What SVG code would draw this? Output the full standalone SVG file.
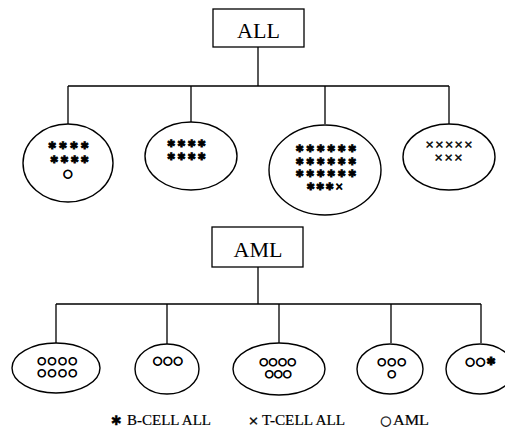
<svg xmlns="http://www.w3.org/2000/svg" width="505" height="429" viewBox="0 0 505 429">
<style>
.box{fill:#fff;stroke:#000;stroke-width:1.3}
.ell{fill:#fff;stroke:#000;stroke-width:1.4}
.ln{fill:none;stroke:#000;stroke-width:1.3}
.title{font-family:"Liberation Serif",serif;font-size:22px;text-anchor:middle;fill:#000}
.sym{font-family:"DejaVu Sans",sans-serif;font-size:10px;text-anchor:middle;dominant-baseline:central;fill:#000;stroke:#000;stroke-width:0.4}
.ast{stroke-width:0.8}
.cir{font-size:10.3px;stroke-width:0.9}
.leg{font-family:"Liberation Serif",serif;font-size:15px;fill:#000;stroke:#000;stroke-width:0.2}
.legs{font-family:"DejaVu Sans",sans-serif;font-size:13px;fill:#000;stroke:#000;stroke-width:0.3}
</style>
<rect width="505" height="429" fill="#fff"/>
<g id="connectors">
<path class="ln" d="M258 47V86M68 86H449M68 86V124M191 86V123M325 86V124M449 86V125"/>
<path class="ln" d="M258 267V304M56 304H481M56 304V343M167 304V344M279 304V343M391 304V343M481 304V343"/>
</g>
<g id="ALL"><rect class="box" x="213" y="9" width="91" height="38"/><text class="title" x="258.5" y="38">ALL</text></g>
<g id="AML"><rect class="box" x="212" y="227" width="91" height="40"/><text class="title" x="258" y="257">AML</text></g>
<g id="all1"><ellipse class="ell" cx="68" cy="163" rx="45" ry="39"/>
<text class="sym ast"><tspan x="68.5" y="145" textLength="41" lengthAdjust="spacing">✱✱✱✱</tspan><tspan x="69.5" y="159" textLength="39" lengthAdjust="spacing">✱✱✱✱</tspan></text>
<text class="sym cir" x="68" y="173" style="font-size:11px">○</text></g>
<g id="all2"><ellipse class="ell" cx="191" cy="156" rx="46" ry="34"/>
<text class="sym ast"><tspan x="186.5" y="143" textLength="39" lengthAdjust="spacing">✱✱✱✱</tspan><tspan x="186.5" y="156" textLength="39" lengthAdjust="spacing">✱✱✱✱</tspan></text></g>
<g id="all3"><ellipse class="ell" cx="325" cy="170" rx="56" ry="45"/>
<text class="sym ast"><tspan x="326" y="148" textLength="61" lengthAdjust="spacing">✱✱✱✱✱✱</tspan><tspan x="326" y="161" textLength="61" lengthAdjust="spacing">✱✱✱✱✱✱</tspan><tspan x="326" y="173" textLength="61" lengthAdjust="spacing">✱✱✱✱✱✱</tspan><tspan x="325" y="186" textLength="37" lengthAdjust="spacing">✱✱✱×</tspan></text></g>
<g id="all4"><ellipse class="ell" cx="449" cy="157" rx="46" ry="33"/>
<text class="sym" style="font-size:11px"><tspan x="449" y="144" textLength="48" lengthAdjust="spacing">×××××</tspan><tspan x="448.5" y="157" textLength="29" lengthAdjust="spacing">×××</tspan></text></g>
<g id="aml1"><ellipse class="ell" cx="56" cy="368" rx="44" ry="25"/>
<text class="sym cir"><tspan x="57.5" y="360" textLength="40" lengthAdjust="spacing">○○○○</tspan><tspan x="57.5" y="372" textLength="40" lengthAdjust="spacing">○○○○</tspan></text></g>
<g id="aml2"><ellipse class="ell" cx="167" cy="369" rx="32" ry="25"/>
<text class="sym cir" x="168" y="360" textLength="30" lengthAdjust="spacing" style="font-size:11px">○○○</text></g>
<g id="aml3"><ellipse class="ell" cx="279" cy="369" rx="46" ry="26"/>
<text class="sym cir"><tspan x="278" y="361" textLength="37" lengthAdjust="spacing">○○○○</tspan><tspan x="278.5" y="373" textLength="27" lengthAdjust="spacing">○○○</tspan></text></g>
<g id="aml4"><ellipse class="ell" cx="390" cy="369" rx="33" ry="25"/>
<text class="sym cir"><tspan x="392" y="361" textLength="29" lengthAdjust="spacing">○○○</tspan><tspan x="392" y="373">○</tspan></text></g>
<g id="aml5"><ellipse class="ell" cx="480" cy="369" rx="34" ry="25"/>
<text class="sym cir" x="480.5" y="361" textLength="30" lengthAdjust="spacing" style="font-size:11px">○○✱</text></g>
<g id="legend">
<text class="legs" x="111" y="425">✱</text><text class="leg" x="127" y="425" textLength="84" lengthAdjust="spacingAndGlyphs">B-CELL ALL</text>
<text class="legs" x="248" y="425">×</text><text class="leg" x="262" y="425" textLength="83" lengthAdjust="spacingAndGlyphs">T-CELL ALL</text>
<text class="legs" x="380" y="425" style="font-size:13px">○</text><text class="leg" x="393" y="425" textLength="36" lengthAdjust="spacingAndGlyphs">AML</text>
</g>
</svg>
